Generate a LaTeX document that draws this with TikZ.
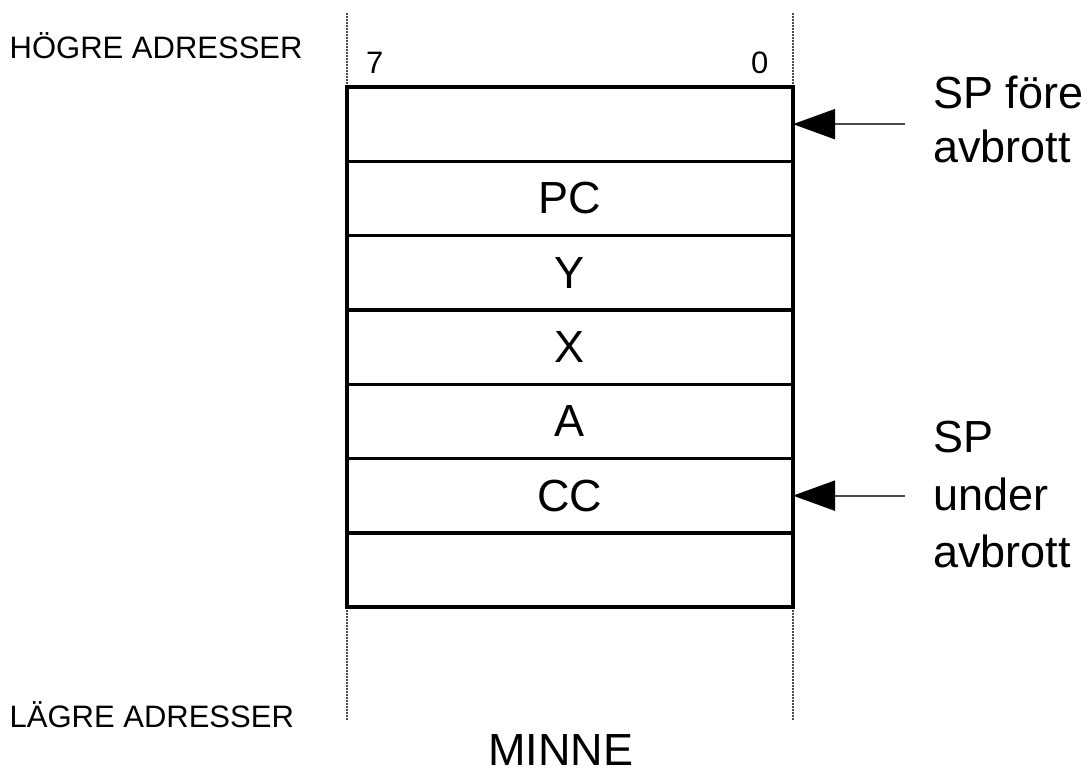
\documentclass[tikz,border=0pt]{standalone}
\usepackage{fontspec}
\setmainfont{Liberation Sans}
\usetikzlibrary{arrows.meta}
\begin{document}
\begin{tikzpicture}[x=1pt,y=-1pt,
  cell/.style={draw=black,line width=3.4pt,minimum width=446pt,minimum height=74.3pt,inner sep=0pt,outer sep=0pt},
  celltext/.style={font=\fontsize{45}{54}\selectfont},
  guide/.style={draw=gray!60!black,line width=2pt,dash pattern=on 1.5pt off 1.5pt},
  small/.style={font=\fontsize{31}{37}\selectfont,inner sep=0pt},
  big/.style={font=\fontsize{45}{54}\selectfont,inner sep=0pt},
  ptr/.style={draw=gray!60!black,line width=2pt,-{Triangle[length=42pt,width=30pt,color=black]}}]
\useasboundingbox (0,0) rectangle (1092,774);
% guides
\coordinate (gl1) at (347,13);
\coordinate (gl2) at (347,720);
\coordinate (gr1) at (793,13);
\coordinate (gr2) at (793,720);
\draw[guide] (gl1) -- (gl2);
\draw[guide] (gr1) -- (gr2);
% cells
\node[cell,fill=white] (r1) at (570,124.15) {};
\node[cell] (r2) at (570,198.45) {};
\node[cell] (r3) at (570,272.75) {};
\node[cell] (r4) at (570,347.05) {};
\node[cell] (r5) at (570,421.35) {};
\node[cell] (r6) at (570,495.65) {};
\node[cell] (r7) at (570,569.95) {};
\node[celltext] (tPC) at (r2) {PC};
\node[celltext] (tY) at (r3) {Y};
\node[celltext] (tX) at (r4) {X};
\node[celltext] (tA) at (r5) {A};
\node[celltext] (tCC) at (r6) {CC};
% bit labels
\node[small,anchor=base west] (b7) at (366,73) {7};
\node[small,anchor=base west] (b0) at (751,73) {0};
% side labels
\node[small,anchor=base west] (hi) at (9.5,58) {HÖGRE ADRESSER};
\node[small,anchor=base west] (lo) at (9.5,727) {LÄGRE ADRESSER};
\node[big,anchor=base] (minne) at (561,765) {MINNE};
\node[big,anchor=base west] (sp1a) at (933,108) {SP före};
\node[big,anchor=base west] (sp1b) at (933,162) {avbrott};
\node[big,anchor=base west] (sp2a) at (933,452) {SP};
\node[big,anchor=base west] (sp2b) at (933,510) {under};
\node[big,anchor=base west] (sp2c) at (933,567) {avbrott};
% pointers
\coordinate (p1) at (905,124.15);
\coordinate (p2) at (905,495.65);
\draw[ptr] (p1) -- (r1.east);
\draw[ptr] (p2) -- (r6.east);
\end{tikzpicture}
\end{document}
